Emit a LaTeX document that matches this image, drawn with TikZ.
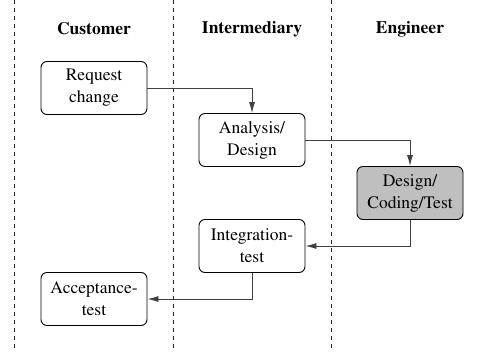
\documentclass[tikz,border=0pt]{standalone}
\usepackage[T1]{fontenc}
\usepackage{times}
\usetikzlibrary{arrows.meta}

\tikzset{
  lane/.style={draw=black!85, line width=0.9pt, dash pattern=on 4pt off 4pt},
  head/.style={font=\fontsize{17.5}{20}\selectfont\bfseries},
  task/.style={draw, line width=0.9pt, rounded corners=6pt, minimum width=106pt,
    minimum height=53pt, align=center, inner sep=1pt, font=\fontsize{17.5}{22}\selectfont},
  done/.style={task, fill=black!25},
  flow/.style={draw=black!75, line width=0.9pt, -{Latex[length=11pt,width=6pt]}}
}

\begin{document}
\begin{tikzpicture}[x=1pt,y=-1pt]
  % Setup
  \def\cA{94}
  \def\cB{252}
  \def\cC{410}
  \useasboundingbox (0,0) rectangle (482,351);

  % Lanes
  \draw[lane] (14,0) -- (14,351);
  \draw[lane] (173,0) -- (173,351);
  \draw[lane] (331,0) -- (331,351);

  % Headers
  \node[head] (customer) at (\cA,29) {Customer};
  \node[head] (intermediary) at (\cB,29) {Intermediary};
  \node[head] (engineer) at (\cC,29) {Engineer};

  % Tasks
  \node[task] (request) at (\cA,88) {Request\\change};
  \node[task] (analysis) at (\cB,140) {Analysis/\\Design};
  \node[done] (coding) at (\cC,193) {Design/\\Coding/Test};
  \node[task] (integration) at (\cB,246) {Integration-\\test};
  \node[task] (acceptance) at (\cA,299) {Acceptance-\\test};

  % Flow
  \draw[flow] (request.east) -| (analysis.north);
  \draw[flow] (analysis.east) -| (coding.north);
  \draw[flow] (coding.south) |- (integration.east);
  \draw[flow] (integration.south) |- (acceptance.east);
\end{tikzpicture}
\end{document}
